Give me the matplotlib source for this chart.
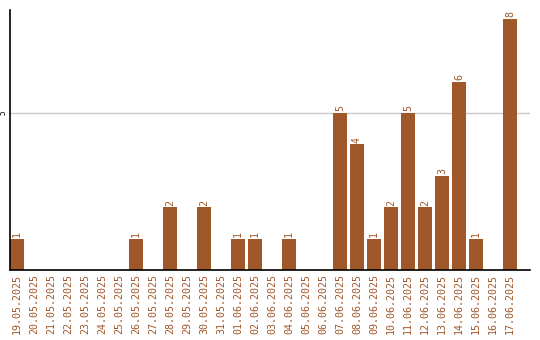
import matplotlib
matplotlib.use("Agg")
import matplotlib.pyplot as plt

dates = ["19.05.2025", "20.05.2025", "21.05.2025", "22.05.2025", "23.05.2025",
         "24.05.2025", "25.05.2025", "26.05.2025", "27.05.2025", "28.05.2025",
         "29.05.2025", "30.05.2025", "31.05.2025", "01.06.2025", "02.06.2025",
         "03.06.2025", "04.06.2025", "05.06.2025", "06.06.2025", "07.06.2025",
         "08.06.2025", "09.06.2025", "10.06.2025", "11.06.2025", "12.06.2025",
         "13.06.2025", "14.06.2025", "15.06.2025", "16.06.2025", "17.06.2025"]
values = [1, 0, 0, 0, 0, 0, 0, 1, 0, 2,
          0, 2, 0, 1, 1, 0, 1, 0, 0, 5,
          4, 1, 2, 5, 2, 3, 6, 1, 0, 8]

color = "#A0572A"
mono = "DejaVu Sans Mono"

fig = plt.figure(figsize=(5.4, 3.4), dpi=100)
ax = fig.add_axes([10/540, 70/340, 520/540, 260/340])

x = list(range(len(dates)))
ax.bar(x, values, width=0.82, color=color, zorder=2)
for xi, v in zip(x, values):
    if v > 0:
        ax.text(xi, v + 0.05, str(v), rotation=90, ha="center", va="bottom",
                color=color, fontsize=7.2, family=mono)

ax.set_xlim(-0.41, 30.18)
ax.set_ylim(0, 8.28)
ax.set_yticks([5])
ax.set_yticklabels(["5"], rotation=90, va="center", fontsize=5.5, family=mono)
ax.yaxis.grid(True, color="#c8c8c8", linewidth=1, zorder=0)
ax.set_xticks(x)
ax.set_xticklabels(dates, rotation=90, fontsize=7.2, family=mono, color=color)
ax.tick_params(axis="both", length=0, pad=3)
ax.tick_params(axis="y", pad=1.5)
for s in ["top", "right"]:
    ax.spines[s].set_visible(False)
ax.spines["left"].set_linewidth(1.2)
ax.spines["bottom"].set_linewidth(1.2)

fig.savefig("out.png", dpi=100)
